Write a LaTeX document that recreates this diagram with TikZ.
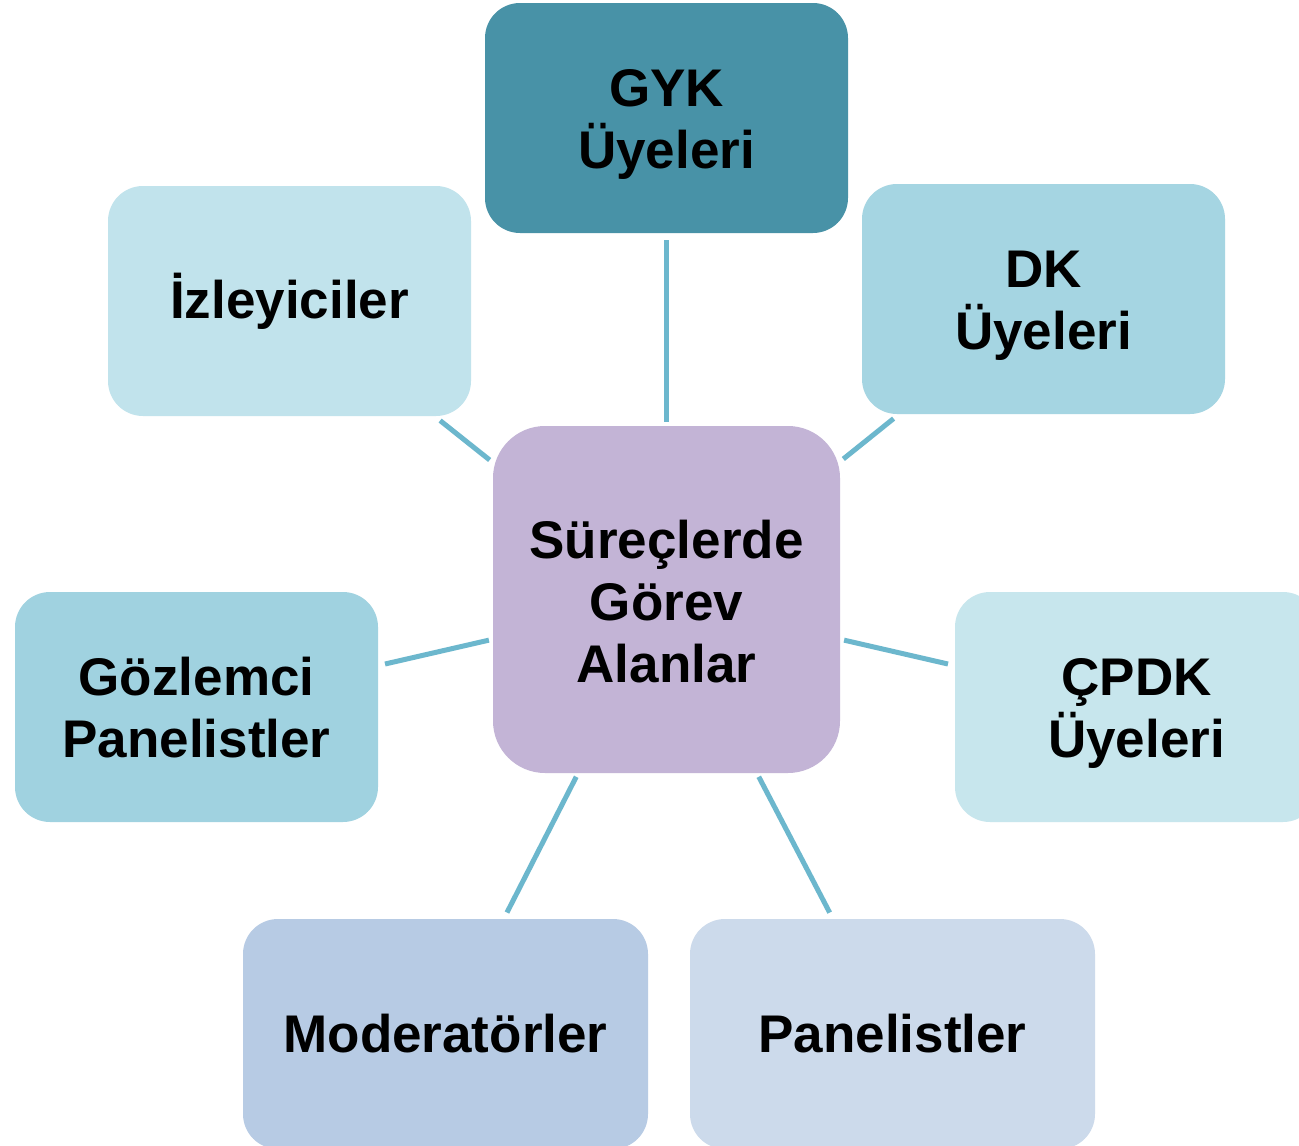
\documentclass[tikz,border=0pt]{standalone}
\usepackage{fontspec}
\setmainfont{Liberation Sans}
\definecolor{cgyk}{HTML}{4892A7}
\definecolor{cizl}{HTML}{C1E3EC}
\definecolor{cdk}{HTML}{A5D5E2}
\definecolor{cctr}{HTML}{C3B4D6}
\definecolor{cgoz}{HTML}{A0D2E0}
\definecolor{ccpdk}{HTML}{C7E6ED}
\definecolor{cmod}{HTML}{B7CBE4}
\definecolor{cpan}{HTML}{CCDAEB}
\definecolor{cline}{HTML}{6CB7CD}
\newcommand{\topstrut}[1]{\rule{0pt}{#1}}
\tikzset{
  box/.style={rectangle, rounded corners=35pt, minimum width=363pt, minimum height=230pt,
    inner sep=0pt, align=center, text=black,
    font=\fontsize{53}{62}\selectfont\bfseries},
  widebox/.style={box, minimum width=405pt},
  hub/.style={box, rounded corners=52pt, minimum width=347pt, minimum height=347pt},
  link/.style={draw=cline, line width=5pt, shorten <=4pt, shorten >=7pt}
}
\begin{document}
\begin{tikzpicture}[x=1pt,y=-1pt]
\clip (0,0) rectangle (1299,1146);
\fill[white] (0,0) rectangle (1299,1146);
\node[hub, fill=cctr] (ctr) at (666.5,599.5) {\topstrut{43pt}Süreçlerde\\Görev\\Alanlar};
\node[box, fill=cgyk] (gyk) at (666.5,118) {\topstrut{49pt}GYK\\Üyeleri};
\node[box, fill=cizl] (izl) at (289.5,301) {İzleyiciler};
\node[box, fill=cdk] (dk) at (1043.5,299) {\topstrut{49pt}DK\\Üyeleri};
\node[box, fill=cgoz] (goz) at (196.5,707) {\topstrut{39pt}Gözlemci\\Panelistler};
\node[box, fill=ccpdk] (cpdk) at (1136.5,707) {\topstrut{49pt}ÇPDK\\Üyeleri};
\node[widebox, fill=cmod] (mod) at (445.5,1034) {Moderatörler};
\node[widebox, fill=cpan] (pan) at (892.5,1034) {Panelistler};
\draw[link] (ctr) -- (gyk);
\draw[link] (ctr) -- (izl);
\draw[link] (ctr) -- (dk);
\draw[link] (ctr) -- (goz);
\draw[link] (ctr) -- (cpdk);
\draw[link] (ctr) -- (mod);
\draw[link] (ctr) -- (pan);
\end{tikzpicture}
\end{document}
